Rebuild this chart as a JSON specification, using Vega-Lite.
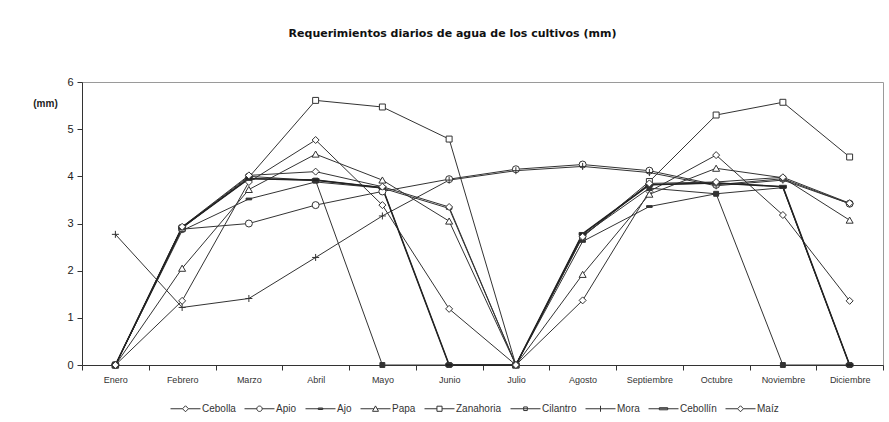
{
  "$schema": "https://vega.github.io/schema/vega-lite/v6.json",
  "autosize": {"type": "none"},
  "width": 801,
  "height": 283,
  "padding": {"left": 82, "top": 82, "right": 6, "bottom": 57},
  "background": "white",
  "title": {
    "text": "Requerimientos diarios de agua de los cultivos (mm)",
    "font": "DejaVu Sans",
    "fontSize": 11,
    "fontWeight": "bold",
    "color": "#111",
    "offset": 37,
    "dx": -30,
    "anchor": "middle"
  },
  "config": {
    "view": {"stroke": "#9a9a9a", "strokeWidth": 1},
    "axis": {"labelFont": "Liberation Sans", "titleFont": "Liberation Sans", "domainColor": "#333", "tickColor": "#333", "labelColor": "#222", "grid": false},
    "legend": {
      "title": null,
      "orient": "none",
      "legendX": 88,
      "legendY": 311,
      "direction": "horizontal",
      "columns": 9,
      "columnPadding": 6,
      "symbolSize": 900,
      "symbolStrokeWidth": 1,
      "symbolStrokeColor": "#333",
      "labelFont": "Liberation Sans",
      "labelFontSize": 10,
      "labelColor": "#333",
      "labelOffset": 1
    }
  },
  "data": {
    "values": [
      {"serie": "Cebolla", "mes": "Enero", "v": 0},
      {"serie": "Cebolla", "mes": "Febrero", "v": 1.36},
      {"serie": "Cebolla", "mes": "Marzo", "v": 3.88},
      {"serie": "Cebolla", "mes": "Abril", "v": 4.77},
      {"serie": "Cebolla", "mes": "Mayo", "v": 3.39},
      {"serie": "Cebolla", "mes": "Junio", "v": 1.19},
      {"serie": "Cebolla", "mes": "Julio", "v": 0},
      {"serie": "Cebolla", "mes": "Agosto", "v": 1.37},
      {"serie": "Cebolla", "mes": "Septiembre", "v": 3.68},
      {"serie": "Cebolla", "mes": "Octubre", "v": 4.45},
      {"serie": "Cebolla", "mes": "Noviembre", "v": 3.18},
      {"serie": "Cebolla", "mes": "Diciembre", "v": 1.36},
      {"serie": "Apio", "mes": "Enero", "v": 0},
      {"serie": "Apio", "mes": "Febrero", "v": 2.88},
      {"serie": "Apio", "mes": "Marzo", "v": 3.0},
      {"serie": "Apio", "mes": "Abril", "v": 3.39},
      {"serie": "Apio", "mes": "Mayo", "v": 3.68},
      {"serie": "Apio", "mes": "Junio", "v": 3.94},
      {"serie": "Apio", "mes": "Julio", "v": 4.15},
      {"serie": "Apio", "mes": "Agosto", "v": 4.25},
      {"serie": "Apio", "mes": "Septiembre", "v": 4.12},
      {"serie": "Apio", "mes": "Octubre", "v": 3.82},
      {"serie": "Apio", "mes": "Noviembre", "v": 3.95},
      {"serie": "Apio", "mes": "Diciembre", "v": 3.42},
      {"serie": "Ajo", "mes": "Enero", "v": 0},
      {"serie": "Ajo", "mes": "Febrero", "v": 2.85},
      {"serie": "Ajo", "mes": "Marzo", "v": 3.52},
      {"serie": "Ajo", "mes": "Abril", "v": 3.88},
      {"serie": "Ajo", "mes": "Mayo", "v": 3.75},
      {"serie": "Ajo", "mes": "Junio", "v": 3.32},
      {"serie": "Ajo", "mes": "Julio", "v": 0},
      {"serie": "Ajo", "mes": "Agosto", "v": 2.62},
      {"serie": "Ajo", "mes": "Septiembre", "v": 3.36},
      {"serie": "Ajo", "mes": "Octubre", "v": 3.63},
      {"serie": "Ajo", "mes": "Noviembre", "v": 3.76},
      {"serie": "Ajo", "mes": "Diciembre", "v": 0},
      {"serie": "Papa", "mes": "Enero", "v": 0},
      {"serie": "Papa", "mes": "Febrero", "v": 2.05},
      {"serie": "Papa", "mes": "Marzo", "v": 3.72},
      {"serie": "Papa", "mes": "Abril", "v": 4.47},
      {"serie": "Papa", "mes": "Mayo", "v": 3.92},
      {"serie": "Papa", "mes": "Junio", "v": 3.05},
      {"serie": "Papa", "mes": "Julio", "v": 0},
      {"serie": "Papa", "mes": "Agosto", "v": 1.92},
      {"serie": "Papa", "mes": "Septiembre", "v": 3.62},
      {"serie": "Papa", "mes": "Octubre", "v": 4.17},
      {"serie": "Papa", "mes": "Noviembre", "v": 3.97},
      {"serie": "Papa", "mes": "Diciembre", "v": 3.07},
      {"serie": "Zanahoria", "mes": "Enero", "v": 0},
      {"serie": "Zanahoria", "mes": "Febrero", "v": 2.9},
      {"serie": "Zanahoria", "mes": "Marzo", "v": 3.98},
      {"serie": "Zanahoria", "mes": "Abril", "v": 5.61},
      {"serie": "Zanahoria", "mes": "Mayo", "v": 5.47},
      {"serie": "Zanahoria", "mes": "Junio", "v": 4.79},
      {"serie": "Zanahoria", "mes": "Julio", "v": 0},
      {"serie": "Zanahoria", "mes": "Agosto", "v": 2.72},
      {"serie": "Zanahoria", "mes": "Septiembre", "v": 3.89},
      {"serie": "Zanahoria", "mes": "Octubre", "v": 5.3},
      {"serie": "Zanahoria", "mes": "Noviembre", "v": 5.57},
      {"serie": "Zanahoria", "mes": "Diciembre", "v": 4.41},
      {"serie": "Cilantro", "mes": "Enero", "v": 0},
      {"serie": "Cilantro", "mes": "Febrero", "v": 2.92},
      {"serie": "Cilantro", "mes": "Marzo", "v": 4.0},
      {"serie": "Cilantro", "mes": "Abril", "v": 3.91},
      {"serie": "Cilantro", "mes": "Mayo", "v": 0},
      {"serie": "Cilantro", "mes": "Junio", "v": 0},
      {"serie": "Cilantro", "mes": "Julio", "v": 0},
      {"serie": "Cilantro", "mes": "Agosto", "v": 2.75},
      {"serie": "Cilantro", "mes": "Septiembre", "v": 3.75},
      {"serie": "Cilantro", "mes": "Octubre", "v": 3.63},
      {"serie": "Cilantro", "mes": "Noviembre", "v": 0},
      {"serie": "Cilantro", "mes": "Diciembre", "v": 0},
      {"serie": "Mora", "mes": "Enero", "v": 2.77},
      {"serie": "Mora", "mes": "Febrero", "v": 1.22},
      {"serie": "Mora", "mes": "Marzo", "v": 1.41},
      {"serie": "Mora", "mes": "Abril", "v": 2.28},
      {"serie": "Mora", "mes": "Mayo", "v": 3.16},
      {"serie": "Mora", "mes": "Junio", "v": 3.92},
      {"serie": "Mora", "mes": "Julio", "v": 4.12},
      {"serie": "Mora", "mes": "Agosto", "v": 4.21},
      {"serie": "Mora", "mes": "Septiembre", "v": 4.08},
      {"serie": "Mora", "mes": "Octubre", "v": 3.8},
      {"serie": "Mora", "mes": "Noviembre", "v": 3.92},
      {"serie": "Mora", "mes": "Diciembre", "v": 3.42},
      {"serie": "Cebollín", "mes": "Enero", "v": 0},
      {"serie": "Cebollín", "mes": "Febrero", "v": 2.92},
      {"serie": "Cebollín", "mes": "Marzo", "v": 3.95},
      {"serie": "Cebollín", "mes": "Abril", "v": 3.92},
      {"serie": "Cebollín", "mes": "Mayo", "v": 3.76},
      {"serie": "Cebollín", "mes": "Junio", "v": 0},
      {"serie": "Cebollín", "mes": "Julio", "v": 0},
      {"serie": "Cebollín", "mes": "Agosto", "v": 2.78},
      {"serie": "Cebollín", "mes": "Septiembre", "v": 3.82},
      {"serie": "Cebollín", "mes": "Octubre", "v": 3.86},
      {"serie": "Cebollín", "mes": "Noviembre", "v": 3.78},
      {"serie": "Cebollín", "mes": "Diciembre", "v": 0},
      {"serie": "Maíz", "mes": "Enero", "v": 0},
      {"serie": "Maíz", "mes": "Febrero", "v": 2.93},
      {"serie": "Maíz", "mes": "Marzo", "v": 4.02},
      {"serie": "Maíz", "mes": "Abril", "v": 4.1},
      {"serie": "Maíz", "mes": "Mayo", "v": 3.78},
      {"serie": "Maíz", "mes": "Junio", "v": 3.35},
      {"serie": "Maíz", "mes": "Julio", "v": 0},
      {"serie": "Maíz", "mes": "Agosto", "v": 2.72},
      {"serie": "Maíz", "mes": "Septiembre", "v": 3.85},
      {"serie": "Maíz", "mes": "Octubre", "v": 3.88},
      {"serie": "Maíz", "mes": "Noviembre", "v": 3.98},
      {"serie": "Maíz", "mes": "Diciembre", "v": 3.43}
    ]
  },
  "encoding": {
    "x": {
      "field": "mes",
      "type": "ordinal",
      "sort": ["Enero", "Febrero", "Marzo", "Abril", "Mayo", "Junio", "Julio", "Agosto", "Septiembre", "Octubre", "Noviembre", "Diciembre"],
      "bandPosition": 0.5,
      "scale": {"type": "band", "paddingInner": 0, "paddingOuter": 0},
      "axis": {"title": null, "labelAngle": 0, "tickBand": "extent", "tickSize": 5, "labelPadding": 5, "labelFontSize": 9, "labelColor": "#333"}
    },
    "y": {
      "field": "v",
      "type": "quantitative",
      "scale": {"domain": [0, 6], "nice": false},
      "axis": {
        "values": [0, 1, 2, 3, 4, 5, 6],
        "tickSize": 5,
        "labelPadding": 4,
        "labelFontSize": 11,
        "title": "(mm)",
        "titleAngle": 0,
        "titleX": -37,
        "titleY": 21,
        "titleAlign": "center",
        "titleBaseline": "middle",
        "titleFontSize": 10,
        "titleFontWeight": "bold",
        "titleColor": "#222"
      }
    }
  },
  "layer": [
    {
      "mark": {"type": "line", "stroke": "#333", "strokeWidth": 1},
      "encoding": {"detail": {"field": "serie", "type": "nominal"}}
    },
    {
      "transform": [{"filter": "datum.serie === 'Cebollín'"}],
      "mark": {"type": "line", "stroke": "#222", "strokeWidth": 1.6},
      "encoding": {}
    },
    {
      "mark": {"type": "point", "filled": true, "stroke": "#333", "strokeWidth": 1, "size": 49, "opacity": 1},
      "encoding": {
        "shape": {
          "field": "serie",
          "type": "nominal",
          "scale": {
            "domain": ["Cebolla", "Apio", "Ajo", "Papa", "Zanahoria", "Cilantro", "Mora", "Cebollín", "Maíz"],
            "range": [
              "M-1,0L0,-1L1,0L0,1Z",
              "circle",
              "M-0.8,-0.25H0.8V0.25H-0.8Z",
              "M-1,0.85L0,-0.9L1,0.85Z",
              "M-0.85,-0.85H0.85V0.85H-0.85Z",
              "M-0.7,-0.7H0.7V0.7H-0.7Z",
              "M-1,0H1M0,-1V1",
              "M-1,-0.4H1V0.4H-1Z",
              "M-1,0L0,-1L1,0L0,1Z"
            ]
          },
          "legend": null
        },
        "fill": {
          "field": "serie",
          "type": "nominal",
          "scale": {
            "domain": ["Cebolla", "Apio", "Ajo", "Papa", "Zanahoria", "Cilantro", "Mora", "Cebollín", "Maíz"],
            "range": ["#ffffff", "#ffffff", "#333333", "#ffffff", "#ffffff", "#333333", "#ffffff", "#222222", "#ffffff"]
          },
          "legend": null
        }
      }
    },
    {
      "transform": [{"filter": "datum.v < -100"}],
      "mark": {"type": "point", "stroke": "#333", "strokeWidth": 1, "size": 900, "opacity": 1},
      "encoding": {
        "shape": {
          "field": "serie",
          "type": "nominal",
          "scale": {
            "domain": ["Cebolla", "Apio", "Ajo", "Papa", "Zanahoria", "Cilantro", "Mora", "Cebollín", "Maíz"],
            "range": [
              "M-1,0H-0.2M0.2,0H1M-0.2,0L0,-0.2L0.2,0L0,0.2Z",
              "M-1,0H-0.18M0.18,0H1M-0.18,0A0.18,0.18,0,1,0,0.18,0A0.18,0.18,0,1,0,-0.18,0Z",
              "M-1,0H1M-0.15,-0.05H0.15V0.05H-0.15Z",
              "M-1,0H-0.11M0.11,0H1M-0.2,0.17L0,-0.19L0.2,0.17Z",
              "M-1,0H-0.17M0.17,0H1M-0.17,-0.17H0.17V0.17H-0.17Z",
              "M-1,0H1M-0.12,-0.12H0.12V0.12H-0.12Z",
              "M-1,0H1M0,-0.2V0.2",
              "M-1,0H1M-0.28,-0.07H0.28V0.07H-0.28Z",
              "M-1,0H-0.2M0.2,0H1M-0.2,0L0,-0.2L0.2,0L0,0.2Z"
            ]
          },
          "legend": {
            "encode": {
              "symbols": {
                "update": {
                  "stroke": {"value": "#333"},
                  "strokeWidth": {"value": 1},
                  "opacity": {"value": 1},
                  "size": {"value": 900},
                  "fill": {"signal": "indexof(['Ajo','Cilantro','Cebollín'], datum.value) >= 0 ? '#333' : '#fff'"}
                }
              }
            }
          }
        }
      }
    }
  ],
  "resolve": {"scale": {"shape": "independent", "fill": "independent"}}
}
